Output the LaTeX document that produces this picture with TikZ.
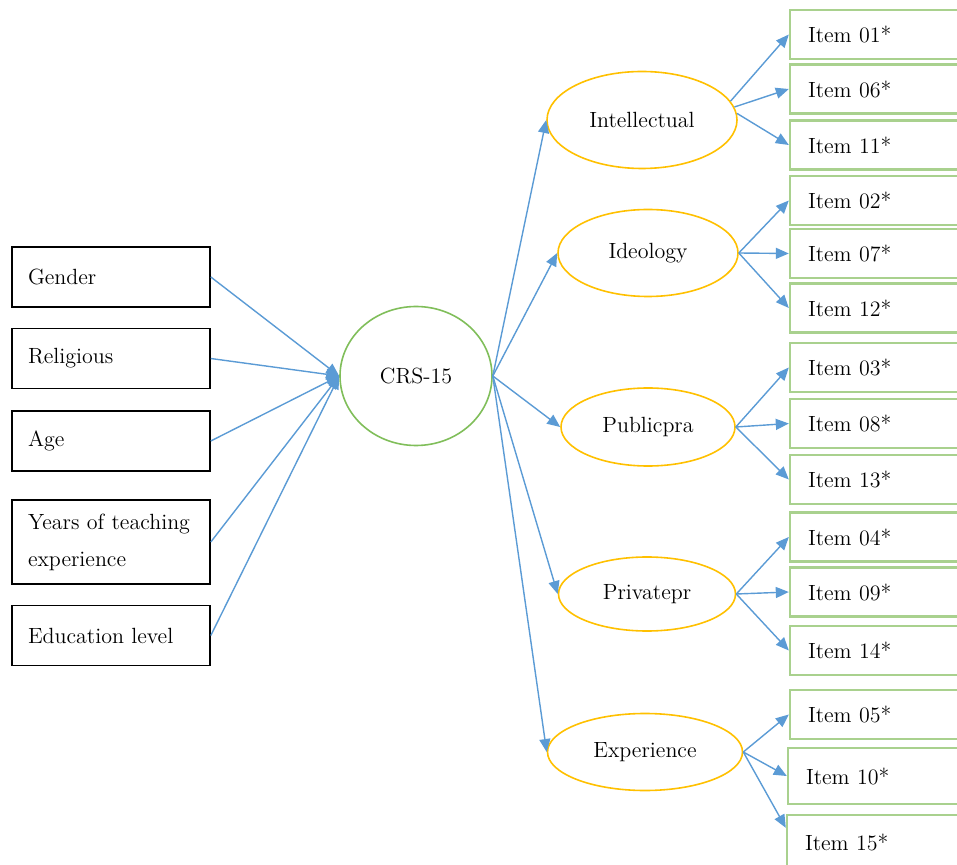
\documentclass[tikz,border=0pt]{standalone}
\usepackage{tikz}
\usetikzlibrary{arrows.meta,shapes.geometric}

\definecolor{linkblue}{RGB}{91,155,213}
\definecolor{itemgreen}{RGB}{169,209,142}
\definecolor{crsgreen}{RGB}{128,190,90}
\definecolor{dimyellow}{RGB}{255,192,0}

\begin{document}
\begin{tikzpicture}[x=0.5pt,y=-0.5pt, font=\fontsize{11}{18.5}\selectfont]

	\tikzstyle{var_node}=[rectangle, draw=black, line width=0.8pt, text width=83pt, inner xsep=8pt, minimum height=30pt, align=left]
	\tikzstyle{crs_node}=[ellipse, draw=crsgreen, line width=0.8pt, minimum width=76pt, minimum height=69.5pt]
	\tikzstyle{dim_node}=[ellipse, draw=dimyellow, line width=0.8pt]
	\tikzstyle{item_node}=[rectangle, draw=itemgreen, line width=1.2pt, text width=82pt, inner xsep=9pt, minimum height=24.5pt, align=left]
	\tikzstyle{link}=[->, >={Triangle[length=6.5pt,width=5.5pt]}, draw=linkblue, fill=linkblue, line width=0.7pt]

	\clip (0,0) rectangle (957,865);

	%Main nodes
	\node[var_node] at (111, 277) (gender) {Gender};
	\node[var_node] at (111, 358.5) (religious) {Religious};
	\node[var_node] at (111, 441) (age) {Age};
	\node[var_node, minimum height=42pt] at (111, 542) (years) {Years of teaching\\ experience};
	\node[var_node] at (111, 635.5) (education) {Education level};

	\node[crs_node] at (416, 376) (crs) {CRS-15};

	\node[dim_node, minimum width=95pt, minimum height=48.5pt] at (642, 120) (intellectual) {Intellectual};
	\node[dim_node, minimum width=90pt, minimum height=43.5pt] at (648, 253) (ideology) {Ideology};
	\node[dim_node, minimum width=87pt, minimum height=39pt] at (648, 427) (publicpra) {Publicpra};
	\node[dim_node, minimum width=88.5pt, minimum height=37pt] at (647, 594) (privatepr) {Privatepr};
	\node[dim_node, minimum width=97.5pt, minimum height=38.5pt] at (645, 752) (experience) {Experience};

	% Item nodes
	\node[item_node] at (890, 34.5) (item01) {Item 01*};
	\node[item_node] at (890, 89) (item06) {Item 06*};
	\node[item_node] at (890, 145) (item11) {Item 11*};
	\node[item_node] at (890, 200.5) (item02) {Item 02*};
	\node[item_node] at (890, 253.5) (item07) {Item 07*};
	\node[item_node] at (890, 308) (item12) {Item 12*};
	\node[item_node] at (890, 367.5) (item03) {Item 03*};
	\node[item_node] at (890, 423.5) (item08) {Item 08*};
	\node[item_node] at (890, 479.5) (item13) {Item 13*};
	\node[item_node] at (890, 537) (item04) {Item 04*};
	\node[item_node] at (890, 592) (item09) {Item 09*};
	\node[item_node] at (890, 650.5) (item14) {Item 14*};
	\node[item_node] at (890, 714.5) (item05) {Item 05*};
	\node[item_node, minimum height=28pt] at (888, 776) (item10) {Item 10*};
	\node[item_node, minimum height=27pt] at (887, 842) (item15) {Item 15*};

	% Connections
	\draw[link] (gender.east) -- (crs.west);
	\draw[link] (religious.east) -- (crs.west);
	\draw[link] (age.east) -- (crs.west);
	\draw[link] (years.east) -- (crs.west);
	\draw[link] (education.east) -- (crs.west);

	\draw[link] (crs.east) -- (intellectual.west);
	\draw[link] (crs.east) -- (ideology.west);
	\draw[link] (crs.east) -- (publicpra.west);
	\draw[link] (crs.east) -- (privatepr.west);
	\draw[link] (crs.east) -- (experience.west);

	\draw[link] (intellectual.12) -- (item01.west);
	\draw[link] (intellectual.8) -- (item06.west);
	\draw[link] (intellectual.4) -- (item11.west);

	\draw[link] (ideology.east) -- (item02.west);
	\draw[link] (ideology.east) -- (item07.west);
	\draw[link] (ideology.east) -- (item12.west);

	\draw[link] (publicpra.east) -- (item03.west);
	\draw[link] (publicpra.east) -- (item08.west);
	\draw[link] (publicpra.east) -- (item13.west);

	\draw[link] (privatepr.east) -- (item04.west);
	\draw[link] (privatepr.east) -- (item09.west);
	\draw[link] (privatepr.east) -- (item14.west);

	\draw[link] (experience.east) -- (item05.west);
	\draw[link] (experience.east) -- (item10.west);
	\draw[link] (experience.east) -- (item15.172);

\end{tikzpicture}
\end{document}
